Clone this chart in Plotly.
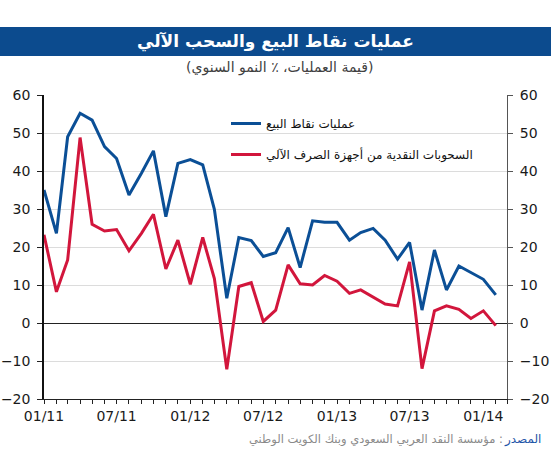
import plotly.graph_objects as go
import pandas as pd

# ---- data (monthly, Jan 2011 - Feb 2014), % y/y ----
months = pd.date_range("2011-01-01", periods=38, freq="MS")
pos_values = [35, 23.6, 49, 55.2, 53.4, 46.4, 43.3, 33.7, 39.4, 45.3,
              28, 42, 43, 41.6, 29.9, 6.5, 22.5, 21.7, 17.5, 18.5,
              25.1, 14.6, 26.9, 26.5, 26.5, 21.8, 23.8, 24.9, 21.8, 16.8,
              21.2, 3.4, 19.2, 8.7, 15, 13.3, 11.5, 7.4]
atm_values = [23.2, 8.2, 16.6, 48.8, 26, 24.2, 24.6, 19, 23.6, 28.6,
              14.2, 21.8, 10.2, 22.5, 11.7, -12.2, 9.6, 10.6, 0.4, 3.4,
              15.3, 10.3, 10, 12.5, 11, 7.8, 8.7, 6.9, 5, 4.5,
              16.1, -12, 3.2, 4.5, 3.6, 1.2, 3.2, -0.7]
pos_name = "عمليات نقاط البيع"
atm_name = "السحوبات النقدية من أجهزة الصرف الآلي"
title_text = "عمليات نقاط البيع والسحب الآلي"
subtitle_text = "(قيمة العمليات، ٪ النمو السنوي)"
source_label = "المصدر"
source_text = "مؤسسة النقد العربي السعودي وبنك الكويت الوطني"

BLUE = "#0b4f96"
RED = "#d2163c"

W, H = 551, 450
L, R, T, B = 44, 44, 95, 51
pw, ph = W - L - R, H - T - B

def px_x(x):
    return (x - L) / pw

def px_y(y):
    return (H - B - y) / ph

fig = go.Figure()
fig.add_trace(go.Scatter(x=months, y=pos_values, mode="lines", name=pos_name,
                         line=dict(color=BLUE, width=3), legendgroup="a"))
fig.add_trace(go.Scatter(x=months, y=atm_values, mode="lines", name=atm_name,
                         line=dict(color=RED, width=3), legendgroup="b"))
# right axis holder
fig.add_trace(go.Scatter(x=[], y=[], yaxis="y2", showlegend=False, hoverinfo="skip"))

tickfont = dict(family="DejaVu Sans, Arial", size=14, color="#1a1a1a")

fig.update_layout(
    width=W, height=H,
    margin=dict(l=L, r=R, t=T, b=B, autoexpand=False),
    paper_bgcolor="white", plot_bgcolor="white",
    showlegend=True,
    legend=dict(x=px_x(226), y=px_y(109), xanchor="left", yanchor="top",
                bgcolor="rgba(0,0,0,0)", tracegroupgap=12,
                font=dict(family="DejaVu Sans, Arial", size=12, color="#111"),
                itemwidth=30),
    xaxis=dict(type="date", range=["2011-01-01", "2014-03-01"],
               dtick="M6", tick0="2011-01-01", tickformat="%m/%y",
               ticks="outside", ticklen=4, tickcolor="#222",
               showline=True, linecolor="#222", linewidth=1,
               showgrid=False, zeroline=False, tickfont=tickfont,
               minor=dict(dtick="M1", ticks="outside", ticklen=4, tickcolor="#222"),
               fixedrange=True),
    yaxis=dict(range=[-20, 60], dtick=10, ticks="outside", ticklen=5,
               tickcolor="#222", showline=True, linecolor="#111", linewidth=1.5,
               showgrid=True, gridcolor="#dcdcdc", gridwidth=1,
               zeroline=True, zerolinecolor="#222", zerolinewidth=1,
               tickfont=tickfont, ticklabelstandoff=4),
    yaxis2=dict(range=[-20, 60], dtick=10, overlaying="y", side="right",
                ticks="outside", ticklen=5, tickcolor="#555",
                showline=True, linecolor="#555", linewidth=1,
                showgrid=False, zeroline=False, tickfont=tickfont,
                ticklabelstandoff=4),
)

# title band
fig.add_shape(type="rect", xref="paper", yref="paper",
              x0=px_x(0), x1=px_x(W), y0=px_y(56), y1=px_y(27),
              fillcolor="#0c4b8e", line=dict(width=0), layer="below")
fig.add_annotation(text="<b>" + title_text + "</b>", xref="paper", yref="paper",
                   x=px_x(W / 2), y=px_y(41.5), xanchor="center", yanchor="middle",
                   showarrow=False,
                   font=dict(family="DejaVu Sans, Arial", size=17, color="white"))
fig.add_annotation(text=subtitle_text, xref="paper", yref="paper",
                   x=px_x(W / 2 + 4), y=px_y(67), xanchor="center", yanchor="middle",
                   showarrow=False,
                   font=dict(family="DejaVu Sans, Arial", size=14, color="#404040"))
# source
fig.add_annotation(text=source_text + " : ", xref="paper", yref="paper",
                   x=px_x(509), y=px_y(439), xanchor="right", yanchor="middle",
                   showarrow=False,
                   font=dict(family="DejaVu Sans, Arial", size=11.5, color="#8a8a8a"))
fig.add_annotation(text=source_label, xref="paper", yref="paper",
                   x=px_x(543), y=px_y(439), xanchor="right", yanchor="middle",
                   showarrow=False,
                   font=dict(family="DejaVu Sans, Arial", size=12, color="#1f55a8"))

fig.write_html("out.html")
